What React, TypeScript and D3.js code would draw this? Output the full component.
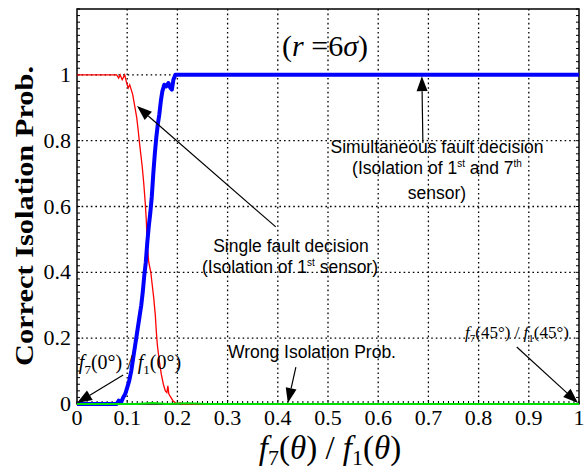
import React from "react";
import * as d3 from "d3";

const xTicks = [0, 0.1, 0.2, 0.3, 0.4, 0.5, 0.6, 0.7, 0.8, 0.9, 1];
const xTickLabels = ["0", "0.1", "0.2", "0.3", "0.4", "0.5", "0.6", "0.7", "0.8", "0.9", "1"];
const yTicks = [0, 0.2, 0.4, 0.6, 0.8, 1];
const yTickLabels = ["0", "0.2", "0.4", "0.6", "0.8", "1"];

const singleX = [0, 0.079, 0.083, 0.086, 0.09, 0.095, 0.099, 0.102, 0.105, 0.108, 0.111, 0.115, 0.119, 0.122, 0.124, 0.127, 0.13, 0.133, 0.136, 0.138, 0.14, 0.143, 0.147, 0.15, 0.153, 0.156, 0.158, 0.16, 0.164, 0.168, 0.172, 0.176, 0.179, 0.181, 0.183, 0.187, 0.191, 0.195, 0.2, 0.205, 0.21, 1];
const singleY = [1, 1, 0.99, 1, 0.985, 1, 0.975, 0.96, 0.97, 0.955, 0.94, 0.905, 0.87, 0.83, 0.8, 0.76, 0.72, 0.67, 0.61, 0.56, 0.48, 0.43, 0.4, 0.36, 0.32, 0.27, 0.22, 0.18, 0.13, 0.09, 0.06, 0.04, 0.035, 0.055, 0.03, 0.02, 0.01, 0.005, 0, 0.004, 0, 0];

const simulX = [0, 0.079, 0.083, 0.088, 0.092, 0.096, 0.1, 0.104, 0.108, 0.112, 0.116, 0.12, 0.124, 0.128, 0.131, 0.134, 0.137, 0.14, 0.143, 0.146, 0.149, 0.152, 0.155, 0.158, 0.161, 0.164, 0.167, 0.17, 0.174, 0.178, 0.182, 0.186, 0.189, 0.192, 0.196, 1];
const simulY = [0, 0, 0.01, 0.005, 0.02, 0.03, 0.05, 0.07, 0.1, 0.14, 0.18, 0.22, 0.26, 0.3, 0.34, 0.39, 0.43, 0.49, 0.54, 0.58, 0.63, 0.7, 0.76, 0.81, 0.85, 0.88, 0.92, 0.95, 0.97, 0.965, 0.975, 0.96, 0.955, 0.985, 1, 1];

const wrongX = [0, 0.12, 0.15, 0.18, 0.22, 0.26, 1];
const wrongY = [0, 0, 0.003, 0, 0.002, 0, 0];

const W = 588, H = 472;
const L = 77, R = 579, T = 9, B = 404;

const x = d3.scaleLinear().domain([0, 1]).range([L, R]);
const y = d3.scaleLinear().domain([0, 1.2]).range([B, T]);

const line = d3.line<[number, number]>().x(d => x(d[0])).y(d => y(d[1]));
const zip = (a: number[], b: number[]) => a.map((v, i) => [v, b[i]] as [number, number]);

function Arrow({ x1, y1, x2, y2 }: { x1: number; y1: number; x2: number; y2: number }) {
  const px1 = x(x1), py1 = y(y1), px2 = x(x2), py2 = y(y2);
  const ang = Math.atan2(py2 - py1, px2 - px1);
  const len = 15, half = 5.5;
  const bx = px2 - len * Math.cos(ang), by = py2 - len * Math.sin(ang);
  const nx = -Math.sin(ang), ny = Math.cos(ang);
  const pts = `${px2},${py2} ${bx + nx * half},${by + ny * half} ${bx - nx * half},${by - ny * half}`;
  return (
    <g>
      <line x1={px1} y1={py1} x2={bx} y2={by} stroke="#000" strokeWidth={1.2} />
      <polygon points={pts} fill="#000" />
    </g>
  );
}

export default function App() {
  const serif = "'Liberation Serif', 'Times New Roman', serif";
  const sans = "'Liberation Sans', Arial, sans-serif";
  const minorY = d3.range(0, 1.2001, 0.02);
  const minorX = d3.range(0, 1.0001, 0.01);
  return (
    <svg width={W} height={H} style={{ position: "absolute", left: 0, top: 0, background: "#fff" }}>
      <rect x={0} y={0} width={W} height={H} fill="#fff" />
      {/* grid */}
      {xTicks.slice(1, -1).map(t => (
        <line key={"gx" + t} x1={x(t)} x2={x(t)} y1={T} y2={B} stroke="#000" strokeWidth={1.3} strokeDasharray="1.6,3" />
      ))}
      {yTicks.slice(1).map(t => (
        <line key={"gy" + t} x1={L} x2={R} y1={y(t)} y2={y(t)} stroke="#000" strokeWidth={1.3} strokeDasharray="1.6,3" />
      ))}
      {/* minor ticks */}
      {minorY.map((t, i) => (
        <g key={"my" + i}>
          <line x1={L} x2={L + 3} y1={y(t)} y2={y(t)} stroke="#000" strokeWidth={1} />
          <line x1={R} x2={R - 3} y1={y(t)} y2={y(t)} stroke="#000" strokeWidth={1} />
        </g>
      ))}
      {minorX.map((t, i) => (
        <line key={"mx" + i} x1={x(t)} x2={x(t)} y1={B} y2={B - 3} stroke="#000" strokeWidth={1} />
      ))}
      {/* frame */}
      <rect x={L} y={T} width={R - L} height={B - T} fill="none" stroke="#000" strokeWidth={1.5} />
      {/* series */}
      <path d={line(zip(singleX, singleY)) || ""} fill="none" stroke="#ff0000" strokeWidth={1.3} />
      <path d={line(zip(simulX, simulY)) || ""} fill="none" stroke="#0000ff" strokeWidth={4} strokeLinejoin="round" />
      <path d={line(zip(wrongX, wrongY)) || ""} fill="none" stroke="#00e000" strokeWidth={2} />
      {/* tick labels */}
      {xTicks.map((t, i) => (
        <text key={"xl" + t} x={x(t)} y={425} textAnchor="middle" fontFamily={serif} fontSize={22}>
          {xTickLabels[i]}
        </text>
      ))}
      {yTicks.map((t, i) => (
        <text key={"yl" + t} x={71} y={y(t) + 7} textAnchor="end" fontFamily={serif} fontSize={22}>
          {yTickLabels[i]}
        </text>
      ))}
      {/* axis titles */}
      <text transform={`translate(33,216) rotate(-90)`} textAnchor="middle" fontFamily={serif} fontSize={26} fontWeight="bold"
        textLength={300} lengthAdjust="spacingAndGlyphs">
        Correct Isolation Prob.
      </text>
      <text x={330} y={459} textAnchor="middle" fontFamily={serif} fontSize={33}>
        <tspan fontStyle="italic">f</tspan>
        <tspan fontSize={22} dy={6}>7</tspan>
        <tspan dy={-6}>(</tspan>
        <tspan fontStyle="italic">θ</tspan>
        <tspan>) / </tspan>
        <tspan fontStyle="italic">f</tspan>
        <tspan fontSize={22} dy={6}>1</tspan>
        <tspan dy={-6}>(</tspan>
        <tspan fontStyle="italic">θ</tspan>
        <tspan>)</tspan>
      </text>
      {/* annotations */}
      <text x={325} y={56} textAnchor="middle" fontFamily={serif} fontSize={30}>
        (<tspan fontStyle="italic">r</tspan> =6<tspan fontStyle="italic">σ</tspan>)
      </text>
      <Arrow x1={0.689} y1={0.793} x2={0.687} y2={0.996} />
      <text x={437} y={153} textAnchor="middle" fontFamily={sans} fontSize={17.5}>Simultaneous fault decision</text>
      <text x={437} y={174} textAnchor="middle" fontFamily={sans} fontSize={17.5}>
        (Isolation of 1<tspan fontSize={10} dy={-7}>st</tspan><tspan dy={7}> and 7</tspan><tspan fontSize={10} dy={-7}>th</tspan>
      </text>
      <text x={437} y={199} textAnchor="middle" fontFamily={sans} fontSize={17.5}>sensor)</text>

      <Arrow x1={0.396} y1={0.538} x2={0.1195} y2={0.905} />
      <text x={291} y={252} textAnchor="middle" fontFamily={sans} fontSize={17.5}>Single fault decision</text>
      <text x={290} y={273} textAnchor="middle" fontFamily={sans} fontSize={17.5}>
        (Isolation of 1<tspan fontSize={10} dy={-7}>st</tspan><tspan dy={7}> sensor)</tspan>
      </text>

      <Arrow x1={0.436} y1={0.112} x2={0.42} y2={0.003} />
      <text x={312} y={358} textAnchor="middle" fontFamily={sans} fontSize={17.5}>Wrong Isolation Prob.</text>

      <Arrow x1={0.876} y1={0.173} x2={0.998} y2={0.003} />
      <text x={517} y={338} textAnchor="middle" fontFamily={serif} fontSize={17}>
        <tspan fontStyle="italic">f</tspan><tspan fontSize={11} dy={4}>7</tspan><tspan dy={-4}>(45°) / </tspan>
        <tspan fontStyle="italic">f</tspan><tspan fontSize={11} dy={4}>1</tspan><tspan dy={-4}>(45°)</tspan>
      </text>

      <Arrow x1={0.092} y1={0.088} x2={0.0} y2={0.003} />
      <text x={130} y={369} textAnchor="middle" fontFamily={serif} fontSize={20}>
        <tspan fontStyle="italic">f</tspan><tspan fontSize={13} dy={5}>7</tspan><tspan dy={-5}>(0°) / </tspan>
        <tspan fontStyle="italic">f</tspan><tspan fontSize={13} dy={5}>1</tspan><tspan dy={-5}>(0°)</tspan>
      </text>
    </svg>
  );
}
